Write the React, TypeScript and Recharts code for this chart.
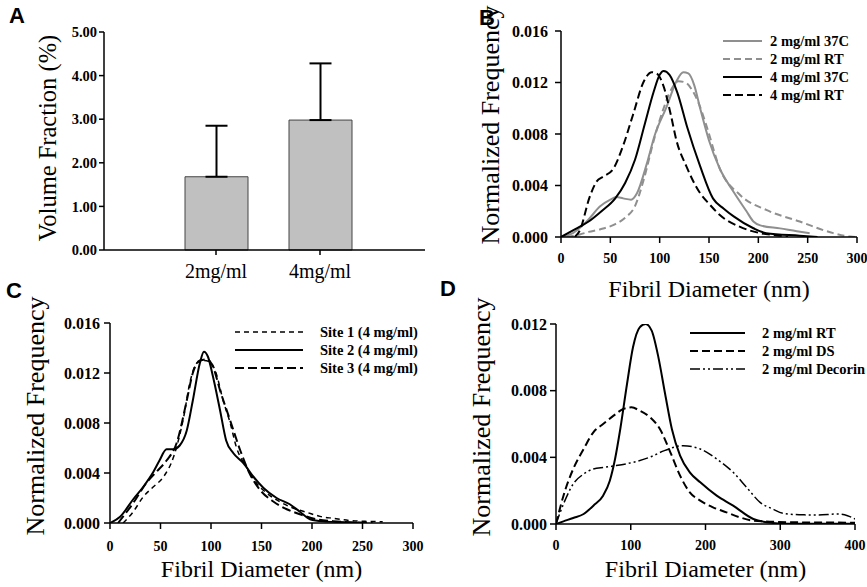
import React from 'react';
import { BarChart, Bar, ErrorBar, XAxis, YAxis, LineChart, Line, Legend } from 'recharts';

const SERIF = '"Liberation Serif", "Times New Roman", Times, serif';
const SANS = '"Liberation Sans", Arial, sans-serif';
const GRAY = '#8f8f8f';

// ---------- Panel A ----------
const aCategories = ['2mg/ml', '4mg/ml'];
const aVolumeFraction = [1.68, 2.98];
const aErrorUp = [1.17, 1.3];
const aYTicks = [0, 1, 2, 3, 4, 5];

// ---------- Panel B ----------
const bTicksX = [0, 50, 100, 150, 200, 250, 300];
const bTicksY = [0, 0.004, 0.008, 0.012, 0.016];
const b2m37X = [0, 12, 26, 40, 50, 56, 63, 71, 77, 87, 95, 107, 117, 124, 129, 135, 141, 150, 161, 175, 188, 195, 202, 222, 239, 252];
const b2m37Y = [0, 0.0003, 0.0012, 0.0024, 0.0029, 0.0031, 0.003, 0.0029, 0.0034, 0.0057, 0.0079, 0.0101, 0.0121, 0.0128, 0.0127, 0.0118, 0.01, 0.0075, 0.0053, 0.0035, 0.002, 0.0012, 0.0009, 0.00067, 0.00045, 0.0003];
const b2mRTX = [6, 19, 28, 40, 55, 65, 75, 84, 94, 104, 112, 119, 126, 133, 140, 148, 161, 181, 208, 242, 276, 293, 300];
const b2mRTY = [0, 0.0002, 0.0004, 0.0006, 0.001, 0.0015, 0.0024, 0.0045, 0.0075, 0.01, 0.0115, 0.0121, 0.012, 0.0114, 0.0103, 0.0085, 0.0053, 0.0033, 0.0021, 0.0012, 0.0003, 0.00003, 0];
const b4m37X = [0, 14, 28, 41, 55, 65, 75, 85, 94, 100, 104, 110, 118, 128, 141, 154, 165, 175, 195, 208, 242, 260];
const b4m37Y = [0, 0.0006, 0.0012, 0.002, 0.003, 0.0042, 0.006, 0.0088, 0.0113, 0.0126, 0.0129, 0.0126, 0.0112, 0.0085, 0.0055, 0.003, 0.0022, 0.0016, 0.00068, 0.0003, 0.0001, 0];
const b4mRTX = [14, 19, 29, 36, 43, 53, 63, 73, 84, 92, 97, 104, 111, 117, 127, 141, 151, 161, 181, 202, 222, 230];
const b4mRTY = [0, 0.0005, 0.0031, 0.0043, 0.0047, 0.0053, 0.0071, 0.0095, 0.0121, 0.0128, 0.0127, 0.0117, 0.0096, 0.0075, 0.0055, 0.0034, 0.0025, 0.0017, 0.0008, 0.0003, 0.0001, 0];

// ---------- Panel C ----------
const cTicksX = [0, 50, 100, 150, 200, 250, 300];
const cTicksY = [0, 0.004, 0.008, 0.012, 0.016];
const cSite1X = [13, 23, 33, 43, 53, 63, 73, 79, 86, 92, 99, 105, 112, 119, 125, 135, 145, 155, 168, 181, 195, 208, 221, 237, 254, 270];
const cSite1Y = [0, 0.0009, 0.0021, 0.0029, 0.0037, 0.0053, 0.0085, 0.0112, 0.0128, 0.013, 0.0129, 0.012, 0.0098, 0.008, 0.0061, 0.0045, 0.0032, 0.0024, 0.0017, 0.0012, 0.00085, 0.00053, 0.00037, 0.0002, 0.00013, 0.0001];
const cSite2X = [0, 10, 23, 33, 43, 49, 56, 63, 69, 76, 82, 89, 93, 97, 102, 109, 115, 122, 132, 142, 152, 165, 178, 188, 198, 211, 237, 250];
const cSite2Y = [0, 0.0005, 0.0019, 0.0029, 0.0041, 0.005, 0.0059, 0.0059, 0.0062, 0.0074, 0.0098, 0.0128, 0.0137, 0.0133, 0.0117, 0.009, 0.0066, 0.0056, 0.0048, 0.0037, 0.0028, 0.002, 0.0015, 0.0009, 0.0003, 0.00013, 0.00005, 0];
const cSite3X = [8, 23, 36, 46, 56, 66, 76, 82, 89, 96, 102, 109, 119, 129, 138, 148, 162, 175, 188, 204, 221, 240, 260];
const cSite3Y = [0, 0.0016, 0.0032, 0.0041, 0.005, 0.0064, 0.0098, 0.012, 0.013, 0.0131, 0.0125, 0.0106, 0.0082, 0.0058, 0.004, 0.0027, 0.0017, 0.0011, 0.0007, 0.0003, 0.00015, 0.00005, 0];

// ---------- Panel D ----------
const dTicksX = [0, 100, 200, 300, 400];
const dTicksY = [0, 0.004, 0.008, 0.012];
const dRTX = [0, 10, 23, 37, 50, 63, 72, 79, 86, 95, 103, 112, 120, 128, 137, 146, 155, 166, 179, 193, 215, 237, 264, 290, 304, 400];
const dRTY = [0, 0.00016, 0.00036, 0.0006, 0.0011, 0.0017, 0.0026, 0.0039, 0.0057, 0.0084, 0.0106, 0.0118, 0.012, 0.0116, 0.01, 0.0078, 0.0057, 0.0041, 0.0031, 0.0025, 0.0017, 0.0011, 0.0003, 0.00006, 0.00002, 0.00002];
const dDSX = [0, 10, 23, 37, 50, 63, 77, 90, 101, 112, 126, 139, 153, 166, 179, 193, 210, 228, 246, 264, 286, 322, 400];
const dDSY = [0, 0.0017, 0.0033, 0.0045, 0.0055, 0.006, 0.0065, 0.0069, 0.007, 0.0068, 0.0064, 0.0057, 0.0043, 0.0029, 0.0019, 0.0014, 0.001, 0.0007, 0.0004, 0.0002, 0.00014, 0.0001, 0.00008];
const dDecX = [0, 10, 23, 37, 50, 65, 80, 103, 125, 145, 170, 193, 215, 237, 255, 273, 290, 304, 330, 350, 377, 390, 400];
const dDecY = [0, 0.0012, 0.0024, 0.003, 0.0033, 0.0034, 0.0035, 0.0037, 0.004, 0.0044, 0.0047, 0.0045, 0.0039, 0.0031, 0.0022, 0.0013, 0.0009, 0.00064, 0.00055, 0.00054, 0.0006, 0.0005, 0.0003];

const pts = (xs: number[], ys: number[]) => xs.map((x, i) => ({ x, y: ys[i] }));

const aData = aCategories.map((c, i) => ({ cat: c, v: aVolumeFraction[i], err: [0, aErrorUp[i]] }));

const axisLine = { stroke: '#000', strokeWidth: 1.5 };
const tickLine = { stroke: '#000', strokeWidth: 1.5 };

const fmt3 = (v: number) => v.toFixed(3);
const fmt2 = (v: number) => v.toFixed(2);
const fmtId = (v: any) => String(v);

const yTick = (fs: number, fmt: (v: number) => string) => (props: any) => {
  const { x, y, payload } = props;
  return (
    <text x={x} y={y} dy="0.355em" textAnchor="end" fontFamily={SERIF} fontWeight="bold" fontSize={fs} fill="#000">
      {fmt(payload.value)}
    </text>
  );
};
const xTick = (fs: number, bold: boolean, fmt: (v: any) => string) => (props: any) => {
  const { x, y, payload } = props;
  return (
    <text x={x} y={y} dy="0.71em" textAnchor="middle" fontFamily={SERIF} fontWeight={bold ? 'bold' : 'normal'} fontSize={fs} fill="#000">
      {fmt(payload.value)}
    </text>
  );
};

type Item = { label: string; color: string; dash?: string; w: number };

const makeLegend = (items: Item[], lineLen: number, textX: number, rowH: number, w: number, h: number) => () => (
  <svg width={w} height={h} style={{ overflow: 'visible', display: 'block' }}>
    {items.map((it, i) => (
      <g key={i}>
        <line x1={0} x2={lineLen} y1={10 + i * rowH} y2={10 + i * rowH} stroke={it.color} strokeWidth={it.w} strokeDasharray={it.dash} />
        <text x={textX} y={10 + i * rowH + 5} fontFamily={SERIF} fontWeight="bold" fontSize={14.5} fill="#000">{it.label}</text>
      </g>
    ))}
  </svg>
);

const titleStyle = { fontFamily: SERIF, fill: '#000' };

function PanelA() {
  return (
    <BarChart width={440} height={290} data={aData} margin={{ top: 32, right: 15, bottom: 0, left: 0 }}>
      <XAxis dataKey="cat" type="category" height={40} padding={{ left: 60, right: 53 }} axisLine={axisLine} tickLine={tickLine} tickSize={5} tickMargin={9}
        tick={xTick(20, false, fmtId)} interval={0} />
      <YAxis type="number" domain={[0, 5]} ticks={aYTicks} width={104} axisLine={axisLine} tickLine={tickLine} tickSize={5} tickMargin={2}
        tick={yTick(14.5, fmt2)}
        label={{ value: 'Volume Fraction (%)', angle: -90, position: 'center', dx: -5, dy: -3, fontSize: 24.5, ...titleStyle }} />
      <Bar dataKey="v" fill="#c0c0c0" stroke="#444" strokeWidth={1} barSize={63} isAnimationActive={false}>
        <ErrorBar dataKey="err" width={11} stroke="#000" strokeWidth={2} direction="y" />
      </Bar>
    </BarChart>
  );
}

function PanelB() {
  const legend = makeLegend([
    { label: '2 mg/ml 37C', color: GRAY, w: 2 },
    { label: '2 mg/ml RT', color: GRAY, w: 2, dash: '7 4' },
    { label: '4 mg/ml 37C', color: '#000', w: 2 },
    { label: '4 mg/ml RT', color: '#000', w: 2, dash: '8 4' },
  ], 39, 47, 18, 150, 80);
  return (
    <LineChart width={427} height={310} margin={{ top: 31, right: 10, bottom: 0, left: 0 }}>
      <XAxis dataKey="x" type="number" domain={[0, 300]} ticks={bTicksX} height={73} axisLine={axisLine} tickLine={tickLine} tickSize={6} tickMargin={10}
        tick={xTick(14, true, fmtId)} interval={0} allowDataOverflow
        label={{ value: 'Fibril Diameter (nm)', position: 'center', dy: 15, fontSize: 24, ...titleStyle }} />
      <YAxis type="number" domain={[0, 0.016]} ticks={bTicksY} width={121} axisLine={axisLine} tickLine={tickLine} tickSize={6} tickMargin={7}
        tick={yTick(16, fmt3)} allowDataOverflow
        label={{ value: 'Normalized Frequency', angle: -90, position: 'center', dx: -11, dy: -9, fontSize: 26, ...titleStyle }} />
      <Legend layout="horizontal" verticalAlign="middle" align="center" content={legend} wrapperStyle={{ left: 283, top: 31, width: 150, height: 80 }} />
      <Line data={pts(b2m37X, b2m37Y)} dataKey="y" type="monotone" stroke={GRAY} strokeWidth={2} dot={false} isAnimationActive={false} />
      <Line data={pts(b2mRTX, b2mRTY)} dataKey="y" type="monotone" stroke={GRAY} strokeWidth={2} strokeDasharray="7 4" dot={false} isAnimationActive={false} />
      <Line data={pts(b4m37X, b4m37Y)} dataKey="y" type="monotone" stroke="#000" strokeWidth={2} dot={false} isAnimationActive={false} />
      <Line data={pts(b4mRTX, b4mRTY)} dataKey="y" type="monotone" stroke="#000" strokeWidth={2} strokeDasharray="8 4" dot={false} isAnimationActive={false} />
    </LineChart>
  );
}

function PanelC() {
  const legend = makeLegend([
    { label: 'Site 1 (4 mg/ml)', color: '#000', w: 1.5, dash: '5 4' },
    { label: 'Site 2 (4 mg/ml)', color: '#000', w: 2 },
    { label: 'Site 3 (4 mg/ml)', color: '#000', w: 2, dash: '9 4' },
  ], 68, 85, 18, 200, 60);
  return (
    <LineChart width={440} height={297} margin={{ top: 33, right: 27, bottom: 0, left: 0 }}>
      <XAxis dataKey="x" type="number" domain={[0, 300]} ticks={cTicksX} height={64} axisLine={axisLine} tickLine={tickLine} tickSize={6} tickMargin={12}
        tick={xTick(14, true, fmtId)} interval={0} allowDataOverflow
        label={{ value: 'Fibril Diameter (nm)', position: 'center', dy: 13.5, fontSize: 24, ...titleStyle }} />
      <YAxis type="number" domain={[0, 0.016]} ticks={cTicksY} width={110} axisLine={axisLine} tickLine={tickLine} tickSize={6} tickMargin={4}
        tick={yTick(16, fmt3)} allowDataOverflow
        label={{ value: 'Normalized Frequency', angle: -90, position: 'center', dx: -20, dy: -7, fontSize: 26, ...titleStyle }} />
      <Legend layout="horizontal" verticalAlign="middle" align="center" content={legend} wrapperStyle={{ left: 235, top: 32, width: 200, height: 60 }} />
      <Line data={pts(cSite1X, cSite1Y)} dataKey="y" type="monotone" stroke="#000" strokeWidth={1.5} strokeDasharray="5 4" dot={false} isAnimationActive={false} />
      <Line data={pts(cSite2X, cSite2Y)} dataKey="y" type="monotone" stroke="#000" strokeWidth={2} dot={false} isAnimationActive={false} />
      <Line data={pts(cSite3X, cSite3Y)} dataKey="y" type="monotone" stroke="#000" strokeWidth={2} strokeDasharray="9 4" dot={false} isAnimationActive={false} />
    </LineChart>
  );
}

function PanelD() {
  const legend = makeLegend([
    { label: '2 mg/ml RT', color: '#000', w: 2 },
    { label: '2 mg/ml DS', color: '#000', w: 2, dash: '8 4' },
    { label: '2 mg/ml Decorin', color: '#000', w: 1.5, dash: '10 3 2 3 2 3' },
  ], 55, 72, 18, 200, 60);
  return (
    <LineChart width={427} height={297} margin={{ top: 34, right: 12, bottom: 0, left: 0 }}>
      <XAxis dataKey="x" type="number" domain={[0, 400]} ticks={dTicksX} height={63} axisLine={axisLine} tickLine={tickLine} tickSize={6} tickMargin={10}
        tick={xTick(14, true, fmtId)} interval={0} allowDataOverflow
        label={{ value: 'Fibril Diameter (nm)', position: 'center', dy: 13, fontSize: 24, ...titleStyle }} />
      <YAxis type="number" domain={[0, 0.012]} ticks={dTicksY} width={116} axisLine={axisLine} tickLine={tickLine} tickSize={6} tickMargin={3}
        tick={yTick(16, fmt3)} allowDataOverflow
        label={{ value: 'Normalized Frequency', angle: -90, position: 'center', dx: -17, dy: -7, fontSize: 26, ...titleStyle }} />
      <Legend layout="horizontal" verticalAlign="middle" align="center" content={legend} wrapperStyle={{ left: 250, top: 33, width: 200, height: 60 }} />
      <Line data={pts(dRTX, dRTY)} dataKey="y" type="monotone" stroke="#000" strokeWidth={2} dot={false} isAnimationActive={false} />
      <Line data={pts(dDSX, dDSY)} dataKey="y" type="monotone" stroke="#000" strokeWidth={2} strokeDasharray="8 4" dot={false} isAnimationActive={false} />
      <Line data={pts(dDecX, dDecY)} dataKey="y" type="monotone" stroke="#000" strokeWidth={1.5} strokeDasharray="10 3 2 3 2 3" dot={false} isAnimationActive={false} />
    </LineChart>
  );
}

export default function App() {
  return (
    <div style={{ position: 'absolute', left: 0, top: 0, width: 867, height: 587, overflow: 'hidden', background: '#fff' }}>
      <div style={{ position: 'absolute', left: 440, top: 0 }}><PanelB /></div>
      <div style={{ position: 'absolute', left: 0, top: 0 }}><PanelA /></div>
      <div style={{ position: 'absolute', left: 0, top: 290 }}><PanelC /></div>
      <div style={{ position: 'absolute', left: 440, top: 290 }}><PanelD /></div>
      <svg width={867} height={587} style={{ position: 'absolute', left: 0, top: 0, pointerEvents: 'none' }}>
        <text x={9} y={23} fontFamily={SANS} fontWeight="bold" fontSize={22} fill="#000">A</text>
        <text x={479} y={25} fontFamily={SANS} fontWeight="bold" fontSize={22} fill="#000">B</text>
        <text x={6} y={298} fontFamily={SANS} fontWeight="bold" fontSize={22} fill="#000">C</text>
        <text x={440} y={296} fontFamily={SANS} fontWeight="bold" fontSize={22} fill="#000">D</text>
      </svg>
    </div>
  );
}
